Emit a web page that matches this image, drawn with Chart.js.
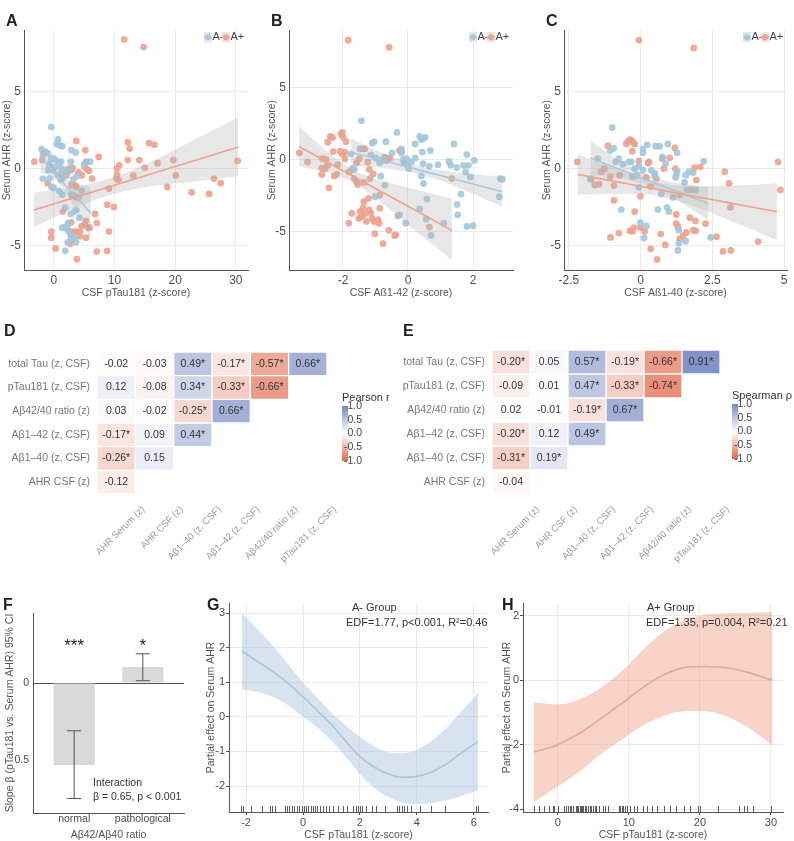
<!DOCTYPE html>
<html>
<head>
<meta charset="utf-8">
<title>Serum AHR panels</title>
<script src="https://cdn.jsdelivr.net/npm/chart.js@4.4.1/dist/chart.umd.min.js"></script>
<style>
  body { margin: 0; background: #fff; }
  #page { position: relative; width: 794px; height: 841px; overflow: hidden; font-family: "Liberation Sans", Arial, sans-serif; }
  #page canvas { position: absolute; }
  .tag { position: absolute; font-weight: bold; font-size: 16px; line-height: 16px; color: #222; }
</style>
</head>
<body>
<div id="page">
  <canvas id="cA" width="252" height="280" style="left:0;top:20px"></canvas>
  <canvas id="cB" width="252" height="280" style="left:265px;top:20px"></canvas>
  <canvas id="cC" width="254" height="280" style="left:540px;top:20px"></canvas>
  <canvas id="cD" width="400" height="245" style="left:0;top:330px"></canvas>
  <canvas id="cE" width="394" height="245" style="left:400px;top:330px"></canvas>
  <canvas id="cF" width="190" height="251" style="left:0;top:590px"></canvas>
  <canvas id="cG" width="292" height="251" style="left:200px;top:590px"></canvas>
  <canvas id="cH" width="302" height="251" style="left:492px;top:590px"></canvas>
  <div class="tag" style="left:6px;top:13px">A</div>
  <div class="tag" style="left:271px;top:13px">B</div>
  <div class="tag" style="left:546px;top:13px">C</div>
  <div class="tag" style="left:4px;top:323px">D</div>
  <div class="tag" style="left:403px;top:323px">E</div>
  <div class="tag" style="left:3px;top:597px">F</div>
  <div class="tag" style="left:207px;top:597px">G</div>
  <div class="tag" style="left:502px;top:597px">H</div>
</div>
<script>
// ---- scatter data (x, serum AHR z) ----
const groupNames = ['A-', 'A+'];

const aPos = [[11.6,8.4],[14.8,7.9],[-3.2,0.45],[-1.9,0.55],[-1.0,-0.95],[-0.4,-4.1],[-0.4,-4.5],[0.3,-5.2],[1.5,-2.8],[1.3,-0.2],
  [2.1,-0.45],[2.4,0],[2.9,-0.1],[3.1,0.05],[3.7,1.8],[3.5,-1.1],[3.7,-1.2],[2.9,-1.07],[3.3,-1.75],[3.6,-1.85],
  [2.9,-3.5],[2.7,-4.1],[3.2,-4.1],[2.7,-4.9],[2.9,-4.7],[3.7,-4.1],[4.3,-4.1],[4.3,-4.4],[4.6,-3.75],[3.8,-5.9],
  [5.1,-3.65],[5.3,-3.4],[5.3,-4.5],[5.7,-3.85],[5.9,-3.85],[5.2,1.2],[5.4,0.45],[5.1,0.1],[5.5,-0.05],[5.8,-0.15],
  [4.1,-0.25],[4.6,-0.45],[7.4,0.75],[6.3,-0.65],[6.8,-2.95],[7.1,-3.55],[7.1,-5.4],[8.8,-5.35],[9.1,-4.1],[8.8,-2.35],
  [9.1,-1.3],[9.9,-2.5],[10.3,-0.65],[10.4,-0.4],[10.4,0],[10.8,0.2],[10.7,-0.75],[12.2,1.7],[12.2,0.55],[12.5,1.3],
  [13.1,-0.45],[14.1,0.55],[15.0,0.05],[15.7,1.65],[16.6,1.55],[17.1,0.35],[18.7,-1.2],[19.7,0.55],[20.1,-0.45],[22.7,-1.55],
  [25.6,-1.65],[26.4,-0.65],[27.5,-0.95],[30.3,0.5]];
const aNeg = [[-0.4,2.7],[0.7,1.9],[0.5,1.6],[1.0,1.5],[1.4,1.45],[2.9,1.2],[3.6,1.05],[-2.0,1.25],[-1.4,1.1],[-1.0,1.0],
  [-1.8,0.9],[-0.4,0.7],[0.0,0.65],[0.3,0.55],[0.9,0.35],[1.2,0.45],[2.8,0.45],[-0.7,0.3],[-0.7,0.1],[0.3,0.1],
  [1.3,0],[1.8,-0.1],[2.3,-0.2],[2.6,-0.1],[-0.9,-0.1],[-0.1,-0.1],[-1.8,-0.65],[-0.7,-0.65],[0.7,-0.4],[1.0,-0.5],
  [1.5,-0.6],[1.2,-0.75],[-0.4,-1.2],[0.0,-1.25],[0.9,-1.45],[1.4,-1.7],[3.2,-0.7],[3.8,-0.5],[4.6,-1.45],[5.0,0.25],
  [6.0,0.45],[5.3,0.4],[4.1,-1.9],[2.9,-1.7],[1.9,-2.55],[3.7,-2.7],[3.4,-2.8],[4.2,-3.2],[2.8,-2.95],[1.8,-3.85],
  [2.4,-3.55],[2.4,-4.05],[2.8,-4.3],[2.9,-4.5],[2.3,-4.8],[3.5,-4.5],[3.7,-4.8],[1.9,-5.35],[2.3,-3.65],[1.4,-3.85]];

const bPos = [[-1.84,8.3],[-0.58,7.8],[-3.34,0.46],[-3.09,-0.18],[-2.63,0.05],[-2.52,-0.02],[-2.65,-0.6],[-2.55,-0.65],[-2.47,-0.4],[-2.65,-1.05],
  [-2.43,-1.98],[-2.47,1.2],[-2.39,1.6],[-2.32,1.52],[-2.3,0.55],[-2.27,-1.15],[-2.19,-1.05],[-2.16,-0.37],[-2.09,0.57],[-2.06,1.77],
  [-2.02,1.88],[-1.99,1.54],[-2.04,0.39],[-1.94,0.5],[-1.91,1.24],[-1.81,-0.87],[-1.94,0.05],[-1.71,-0.69],[-1.65,-1.33],[-1.58,-1.56],
  [-1.55,-1.75],[-1.4,0.74],[-1.33,0.74],[-1.36,-1.6],[-1.58,-0.23],[-1.5,0.05],[-1.19,-0.69],[-1.24,-0.18],[-1.17,-1.33],[-1.07,-1.0],
  [-0.87,-2.48],[-1.36,-2.94],[-1.22,-2.71],[-1.73,-3.75],[-1.82,-4.44],[-1.48,-3.63],[-1.38,-3.4],[-1.43,-3.98],[-1.51,-4.1],[-1.33,-3.82],
  [-1.28,-4.32],[-1.19,-3.52],[-1.14,-3.75],[-1.1,-4.1],[-1.05,-4.32],[-0.92,-4.2],[-0.89,-4.44],[-0.87,-3.4],[-1.02,-5.17],[-0.77,-5.86],
  [-0.59,-4.94],[-0.41,-5.31],[-0.38,-5.24],[-0.31,-3.93],[-0.26,0.62],[-0.2,0.55],[-0.56,0.09],[-0.66,-0.07],[-0.71,0.16],[0.66,-4.71],
  [1.35,-1.33]];
const bNeg = [[-1.43,2.69],[-1.48,0.74],[-1.76,0.39],[-1.71,-0.64],[-1.65,-0.69],[-1.1,1.13],[-1.04,1.24],[-1.14,0.32],[-0.99,0.09],[-0.87,-0.23],
  [-0.82,-0.07],[-0.74,0],[-0.84,-1.17],[-0.68,1.24],[-0.71,-1.79],[-1.02,-2.6],[-0.49,0.46],[-0.34,1.88],[-0.2,0.74],[-0.2,0.46],
  [-0.15,0],[-0.12,-0.23],[-0.05,0.05],[-0.02,-0.41],[0.03,-0.64],[0.1,-0.18],[0.22,1.08],[0.22,0.09],[0.36,1.61],[0.41,1.38],
  [0.46,1.47],[0.53,1.54],[0.44,0.51],[0.46,-0.3],[0.41,-1.15],[0.48,-1.68],[0.69,0.62],[0.66,-0.48],[0.58,-2.76],[0.92,-0.37],
  [1.26,-0.14],[1.31,-0.41],[1.41,1.08],[1.5,-0.57],[1.51,-3.13],[1.53,-3.86],[1.63,-2.41],[1.71,-0.41],[1.77,-0.87],[1.81,0.34],
  [1.86,-0.41],[1.92,-1.22],[2.04,-0.07],[1.81,-4.67],[2.0,-4.62],[2.84,-1.33],[2.91,-1.38],[2.81,-2.6],[1.1,-4.44],[-0.07,-4.44],
  [0.56,-4.14],[0.71,-5.29],[0.36,-3.45],[-0.26,-3.86]];

const cPos = [[-0.06,8.36],[1.85,7.85],[-2.21,0.43],[-1.72,-0.68],[-1.6,-1.07],[-1.45,-1.02],[-1.37,-0.21],[-1.26,0],[-1.14,1.49],[-1.06,-0.53],
  [-1.05,-4.48],[-0.93,-1.11],[-0.93,-2.07],[-0.73,-0.43],[-0.76,-4.2],[-0.5,1.6],[-0.44,1.75],[-0.38,1.88],[-0.31,1.81],[-0.27,1.71],
  [-0.21,1.6],[-0.29,1.13],[-0.38,-4.05],[-0.29,-4.09],[-0.23,-3.84],[-0.21,-2.81],[-0.06,0.49],[-0.01,-1.81],[-0.01,-3.84],[0.14,-4.09],
  [0.2,-0.58],[0.26,0.36],[0.29,0.43],[0.34,-1.17],[0.35,-5.22],[0.55,-0.64],[0.57,-5.91],[0.7,-4.26],[0.76,0.64],[0.81,0],
  [0.86,-4.97],[1.01,0.7],[1.19,1.34],[1.21,0],[1.24,-2.99],[1.24,-3.58],[1.3,-3.8],[1.36,-1.71],[1.36,-4.58],[1.48,-4.37],
  [1.59,-4.16],[1.71,-3.2],[1.77,-1.39],[1.83,-4.01],[1.88,0.06],[1.92,-4.05],[1.91,-3.41],[1.94,-0.75],[2.08,0.11],[2.26,-3.58],
  [2.64,-4.43],[2.93,-0.21],[3.08,-0.96],[3.13,-2.52],[2.87,-5.39],[3.14,-5.33],[4.09,-4.75],[4.79,0.43],[4.87,-1.39]];
const cNeg = [[-0.99,2.67],[-1.76,-0.68],[-1.49,0.64],[-1.06,1.17],[-0.94,1.32],[-0.87,0.43],[-0.76,0.64],[-0.62,0.28],[-0.41,0.43],[-0.33,0.43],
  [-0.29,-0.53],[-0.21,0],[-0.13,-0.43],[-0.06,0.15],[-0.06,-1.22],[0.08,1.28],[0.08,1.02],[0.08,-0.11],[0.23,1.54],[0.37,-0.11],
  [0.49,-0.32],[0.52,1.45],[0.66,1.45],[0.76,0.75],[0.49,-0.43],[0.72,-1.66],[0.87,0.32],[0.95,1.6],[0.6,-2.67],[0.99,-2.81],
  [0.92,-2.52],[1.22,-0.58],[1.24,-0.43],[1.27,-0.17],[1.27,1.02],[1.13,-1.88],[1.33,-4.01],[1.33,-4.86],[1.3,-5.33],[1.57,-0.43],
  [1.53,-0.9],[1.62,-1.39],[1.69,-0.21],[1.83,-0.26],[1.92,-1.39],[2.2,0.47],[2.44,-4.48],[1.57,-4.73],[0.2,-3.73],[0.12,-4.52],
  [-0.01,-3.52],[-0.67,-2.67]];

// linear fits with 95% CI (x grid, fit, upper, lower)
const aPosFitX = [-3.3, 0, 4, 8, 12, 16, 20, 25, 30.4];
const aPosFit = [-2.7, -2.3, -1.81, -1.33, -0.84, -0.35, 0.13, 0.74, 1.4];
const aPosHi = [-1.57, -1.4, -1.16, -0.78, -0.24, 0.45, 1.23, 2.24, 3.3];
const aPosLo = [-3.83, -3.2, -2.46, -1.88, -1.44, -1.15, -0.97, -0.76, -0.5];
const aNegFitX = [-2.2, -1, 0, 1, 2, 3, 4, 5, 6.1];
const aNegFit = [0.7, 0.18, -0.25, -0.69, -1.12, -1.56, -1.99, -2.42, -2.9];
const aNegHi = [1.65, 0.8, 0.17, -0.34, -0.67, -0.86, -0.99, -1.07, -1.2];
const aNegLo = [-0.25, -0.44, -0.67, -1.04, -1.57, -2.26, -2.99, -3.77, -4.6];

const bPosFitX = [-3.35, -2.5, -1.8, -1, 0, 1.35];
const bPosFit = [0.9, -0.16, -1.03, -2.02, -3.26, -4.94];
const bPosHi = [2.3, 0.59, -0.58, -1.37, -1.96, -2.74];
const bPosLo = [-0.5, -0.91, -1.48, -2.67, -4.56, -7.0];
const bNegFitX = [-1.75, -1, 0, 0.5, 1, 2, 2.9];
const bNegFit = [0.5, 0.06, -0.53, -0.83, -1.12, -1.71, -2.25];
const bNegHi = [1.45, 0.66, -0.2, -0.53, -0.77, -1.01, -1.2];
const bNegLo = [-0.45, -0.54, -0.86, -1.13, -1.47, -2.41, -3.3];

const cPosFitX = [-2.2, -1, 0, 1, 2, 3, 4, 4.75];
const cPosFit = [-0.38, -0.8, -1.15, -1.5, -1.85, -2.2, -2.55, -2.81];
const cPosHi = [0.95, 0.05, -0.65, -1.05, -1.15, -1.1, -1.05, -0.94];
const cPosLo = [-1.71, -1.65, -1.65, -1.95, -2.55, -3.3, -4.05, -4.68];
const cNegFitX = [-1.75, -1, 0, 0.5, 1, 2, 2.35];
const cNegFit = [0.68, 0.14, -0.58, -0.94, -1.3, -2.02, -2.28];
const cNegHi = [1.85, 0.84, -0.21, -0.59, -0.85, -1.12, -1.21];
const cNegLo = [-0.49, -0.56, -0.95, -1.29, -1.75, -2.92, -3.35];

const serumTicks = [-5, 0, 5];
const aXTicks = [0, 10, 20, 30];
const bXTicks = [-2, 0, 2];
const cXTicks = [-2.5, 0, 2.5, 5];

// ---- correlation matrices ----
const hmCols = ['AHR Serum (z)', 'AHR CSF (z)', 'Aβ1–40 (z, CSF)', 'Aβ1–42 (z, CSF)', 'Aβ42/40 ratio (z)', 'pTau181 (z, CSF)'];
const hmRows = ['total Tau (z, CSF)', 'pTau181 (z, CSF)', 'Aβ42/40 ratio (z)', 'Aβ1–42 (z, CSF)', 'Aβ1–40 (z, CSF)', 'AHR CSF (z)'];
const pearsonR = [[-0.02, -0.03, 0.49, -0.17, -0.57, 0.66], [0.12, -0.08, 0.34, -0.33, -0.66], [0.03, -0.02, -0.25, 0.66], [-0.17, 0.09, 0.44], [-0.26, 0.15], [-0.12]];
const pearsonSig = [[0, 0, 1, 1, 1, 1], [0, 0, 1, 1, 1], [0, 0, 1, 1], [1, 0, 1], [1, 0], [0]];
const spearmanR = [[-0.20, 0.05, 0.57, -0.19, -0.66, 0.91], [-0.09, 0.01, 0.47, -0.33, -0.74], [0.02, -0.01, -0.19, 0.67], [-0.20, 0.12, 0.49], [-0.31, 0.19], [-0.04]];
const spearmanSig = [[1, 0, 1, 1, 1, 1], [0, 0, 1, 1, 1], [0, 0, 1, 1], [1, 0, 1], [1, 1], [0]];
const legendTicks = [1, 0.5, 0, -0.5, -1];

// ---- slope by amyloid status ----
const fGroups = ['normal', 'pathological'];
const fSlope = [-0.532, 0.104];
const fLow = [-0.75, 0.015];
const fHigh = [-0.31, 0.19];
const fStars = ['***', '*'];
const fTicks = [-0.5, 0];
const fTickLabels = ['0.5', '0'];

// ---- GAM smooths ----
const gX = [-2.15, -1.5, -1, -0.5, 0, 0.5, 1, 1.5, 2, 2.5, 3, 3.5, 4, 4.5, 5, 5.5, 6.15];
const gFit = [1.9, 1.55, 1.28, 0.95, 0.58, 0.18, -0.22, -0.7, -1.15, -1.45, -1.65, -1.75, -1.72, -1.6, -1.38, -1.08, -0.72];
const gHi = [3.0, 2.45, 2.0, 1.5, 1.0, 0.55, 0.12, -0.25, -0.58, -0.85, -1.02, -1.05, -0.95, -0.7, -0.35, 0.1, 0.68];
const gLo = [0.78, 0.7, 0.55, 0.32, 0.0, -0.3, -0.7, -1.15, -1.65, -2.05, -2.32, -2.48, -2.52, -2.5, -2.42, -2.3, -2.13];
const gRug = [-2.19, -2.12, -1.84, -1.45, -1.16, -1.10, -0.98, -0.65, -0.57, -0.49, -0.40, -0.30, -0.22, -0.14, -0.05, 0.04, 0.11, 0.19, 0.27, 0.34,
  0.42, 0.50, 0.60, 0.69, 0.80, 0.92, 1.06, 1.24, 1.42, 1.56, 1.77, 1.85, 1.92, 2.00, 2.08, 2.23, 2.41, 2.58, 2.88, 3.29,
  3.38, 3.47, 3.56, 3.66, 3.78, 4.11, 4.51, 4.98, 6.09, 6.15];
const gXTicks = [-2, 0, 2, 4, 6];
const gYTicks = [-2, -1, 0, 1, 2, 3];
const gNote = ['A- Group', 'EDF=1.77, p<0.001, R²=0.46'];

const hX = [-3.4, 0, 3, 6, 9, 12, 15, 18, 21, 24, 27, 30.2];
const hFit = [-2.23, -2.0, -1.65, -1.2, -0.72, -0.22, 0.18, 0.4, 0.43, 0.38, 0.23, 0.0];
const hHi = [-0.68, -0.75, -0.6, -0.24, 0.28, 0.95, 1.52, 1.88, 2.04, 2.09, 2.1, 2.11];
const hLo = [-3.78, -3.3, -2.85, -2.3, -1.85, -1.4, -1.1, -0.95, -0.96, -1.15, -1.5, -2.03];
const hRug = [-3.4, -2.7, -2.0, -1.3, -0.7, -0.5, 0.0, 0.9, 1.2, 1.4, 1.7, 1.9, 2.1, 2.5, 2.7, 2.9, 3.1, 3.3, 3.4, 3.6,
  3.8, 4.0, 4.2, 4.5, 4.7, 4.95, 5.2, 5.4, 5.8, 6.3, 6.6, 7.1, 8.6, 8.8, 9.0, 9.2, 9.4, 9.7, 10.1, 10.7,
  11.1, 12.0, 12.5, 13.2, 13.9, 14.9, 15.8, 16.7, 17.7, 18.6, 19.8, 20.0, 22.6, 25.5, 26.2, 26.7, 27.5, 30.0];
const hXTicks = [0, 10, 20, 30];
const hYTicks = [-4, -2, 0, 2];
const hNote = ['A+ Group', 'EDF=1.35, p=0.004, R²=0.21'];

// ---- styling ----
const FONT = '"Liberation Sans", Arial, sans-serif';
const BLUE_PT = 'rgba(163,198,220,0.9)';
const SALMON_PT = 'rgba(236,162,142,0.9)';
const BLUE_LINE = '#a6c9de';
const SALMON_LINE = '#eea38d';
const SE_BAND = 'rgba(175,175,175,0.3)';

Chart.defaults.font.family = FONT;
Chart.defaults.color = '#4d4d4d';
Chart.defaults.animation = false;
Chart.defaults.plugins.legend.display = false;
Chart.defaults.plugins.tooltip.enabled = false;

function corrColor(v) {
  const t = Math.min(1, Math.abs(v));
  const end = v >= 0 ? [118, 136, 196] : [226, 104, 74];
  const c = end.map(e => Math.round(255 + (e - 255) * t));
  return `rgb(${c.join(',')})`;
}

function linAxis(o) {
  return {
    type: 'linear', min: o.min, max: o.max, offset: false,
    afterBuildTicks: s => { s.ticks = o.ticks.map(v => ({ value: v })); },
    afterFit: s => { if (o.w !== undefined) s.width = o.w; if (o.h !== undefined) s.height = o.h; },
    grid: { display: o.grid !== false, color: o.gridColor || '#ebebeb', drawTicks: !!o.tickLen, tickLength: o.tickLen || 0, tickColor: '#555' },
    border: { display: true, color: '#555', width: 1 },
    ticks: { padding: o.pad, color: '#4d4d4d', font: { size: o.fs || 12 }, callback: o.cb || (v => String(v)) },
    title: { display: true, text: o.title, color: '#555', font: { size: 10.5 }, padding: o.tpad }
  };
}

const groupLegend = {
  id: 'groupLegend',
  afterDraw(chart) {
    const { ctx, chartArea: a } = chart;
    const y = a.top + 7;
    const cols = [BLUE_LINE, SALMON_LINE];
    ctx.save();
    ctx.font = '11px ' + FONT;
    ctx.textBaseline = 'middle';
    groupNames.forEach((name, i) => {
      const x = a.right - 44 + i * 18;
      ctx.fillStyle = '#e4e4e4';
      ctx.fillRect(x, y - 5, 8, 10);
      ctx.strokeStyle = cols[i];
      ctx.lineWidth = 1.2;
      ctx.beginPath(); ctx.moveTo(x, y); ctx.lineTo(x + 8, y); ctx.stroke();
      ctx.fillStyle = cols[i];
      ctx.beginPath(); ctx.arc(x + 4, y, 3, 0, Math.PI * 2); ctx.fill();
      ctx.fillStyle = '#444';
      ctx.fillText(name, x + 8.5, y);
    });
    ctx.restore();
  }
};

function fitSets(xs, fit, hi, lo, lineColor) {
  return [
    { type: 'line', data: xs.map((x, i) => ({ x, y: fit[i] })), borderColor: lineColor, borderWidth: 1.6, pointRadius: 0, fill: false, order: 0 },
    { type: 'line', data: xs.map((x, i) => ({ x, y: hi[i] })), borderWidth: 0, borderColor: 'rgba(0,0,0,0)', backgroundColor: SE_BAND, pointRadius: 0, fill: '+1', cubicInterpolationMode: 'monotone', order: 1 },
    { type: 'line', data: xs.map((x, i) => ({ x, y: lo[i] })), borderWidth: 0, borderColor: 'rgba(0,0,0,0)', pointRadius: 0, fill: false, cubicInterpolationMode: 'monotone', order: 1 }
  ];
}

function scatterPanel(id, p) {
  new Chart(document.getElementById(id), {
    type: 'scatter',
    data: {
      datasets: [
        ...fitSets(p.posX, p.posFit, p.posHi, p.posLo, SALMON_LINE),
        ...fitSets(p.negX, p.negFit, p.negHi, p.negLo, BLUE_LINE),
        { type: 'scatter', data: p.neg.map(([x, y]) => ({ x, y })), backgroundColor: BLUE_PT, pointRadius: 3.4, borderWidth: 0, order: 2 },
        { type: 'scatter', data: p.pos.map(([x, y]) => ({ x, y })), backgroundColor: SALMON_PT, pointRadius: 3.4, borderWidth: 0, order: 2 }
      ]
    },
    options: {
      responsive: false,
      devicePixelRatio: 1,
      layout: { padding: { top: 7, right: p.right, left: 0, bottom: 0 } },
      scales: {
        x: linAxis({ min: p.xMin, max: p.xMax, ticks: p.xTicks, h: 30, pad: 3, title: p.xTitle, tpad: { top: 0, bottom: 1 } }),
        y: linAxis({ min: p.yMin, max: p.yMax, ticks: serumTicks, w: 24, pad: 3, title: 'Serum AHR (z-score)', tpad: { top: 1, bottom: 0 } })
      }
    },
    plugins: [groupLegend]
  });
}

scatterPanel('cA', { pos: aPos, neg: aNeg, posX: aPosFitX, posFit: aPosFit, posHi: aPosHi, posLo: aPosLo,
  negX: aNegFitX, negFit: aNegFit, negHi: aNegHi, negLo: aNegLo,
  xMin: -4.9, xMax: 32, yMin: -6.6, yMax: 9.0, xTicks: aXTicks, xTitle: 'CSF pTau181 (z-score)', right: 4 });
scatterPanel('cB', { pos: bPos, neg: bNeg, posX: bPosFitX, posFit: bPosFit, posHi: bPosHi, posLo: bPosLo,
  negX: bNegFitX, negFit: bNegFit, negHi: bNegHi, negLo: bNegLo,
  xMin: -3.66, xMax: 3.23, yMin: -7.7, yMax: 9.0, xTicks: bXTicks, xTitle: 'CSF Aß1-42 (z-score)', right: 4 });
scatterPanel('cC', { pos: cPos, neg: cNeg, posX: cPosFitX, posFit: cPosFit, posHi: cPosHi, posLo: cPosLo,
  negX: cNegFitX, negFit: cNegFit, negHi: cNegHi, negLo: cNegLo,
  xMin: -2.67, xMax: 5.1, yMin: -6.6, yMax: 9.0, xTicks: cXTicks, xTitle: 'CSF Aß1-40 (z-score)', right: 7 });

// ---- heatmaps ----
function heatPlugin(vals, sig, title, legendDx) {
  return {
    id: 'heatText',
    afterDatasetsDraw(chart) {
      const { ctx, chartArea: a } = chart;
      ctx.save();
      ctx.font = '10.5px ' + FONT;
      ctx.fillStyle = '#333';
      ctx.textAlign = 'center';
      ctx.textBaseline = 'middle';
      vals.forEach((row, r) => {
        const meta = chart.getDatasetMeta(r);
        row.forEach((v, j) => {
          const el = meta.data[j];
          ctx.fillText(v.toFixed(2) + (sig[r][j] ? '*' : ''), el.x, (el.y + el.base) / 2);
        });
      });
      // colour bar legend
      const bx = a.right + legendDx, by = a.top + 54, bw = 6, bh = 55;
      const grad = ctx.createLinearGradient(0, by, 0, by + bh);
      legendTicks.forEach(v => grad.addColorStop((1 - v) / 2, corrColor(v)));
      ctx.fillStyle = grad;
      ctx.fillRect(bx, by, bw, bh);
      ctx.fillStyle = '#333';
      ctx.textAlign = 'left';
      ctx.font = '11px ' + FONT;
      ctx.fillText(title, bx, by - 8);
      ctx.textAlign = 'right';
      ctx.font = '10.5px ' + FONT;
      ctx.fillStyle = '#444';
      legendTicks.forEach(v => ctx.fillText(v.toFixed(1), bx + 20, by + (1 - v) / 2 * bh));
      ctx.restore();
    }
  };
}

function heatPanel(id, vals, sig, title, yw, top, right, legendDx) {
  new Chart(document.getElementById(id), {
    type: 'bar',
    data: {
      labels: hmCols,
      datasets: vals.map((row, r) => ({
        data: hmCols.map((_, j) => j < row.length ? [r - 0.5, r + 0.5] : null),
        backgroundColor: hmCols.map((_, j) => j < row.length ? corrColor(row[j]) : 'rgba(0,0,0,0)'),
        borderColor: '#ffffff', borderWidth: 1, borderSkipped: false,
        grouped: false, barPercentage: 1, categoryPercentage: 1
      }))
    },
    options: {
      responsive: false,
      devicePixelRatio: 1,
      layout: { padding: { top, right, left: 0, bottom: 0 } },
      scales: {
        x: {
          grid: { display: false }, border: { display: false },
          afterFit: s => { s.height = 81; },
          ticks: { autoSkip: false, minRotation: 45, maxRotation: 45, labelOffset: 27, padding: 2, color: '#9a9a9a', font: { size: 9.5 } }
        },
        y: {
          type: 'linear', min: -0.5, max: 5.5, reverse: true,
          grid: { display: false, drawTicks: false }, border: { display: false },
          afterFit: s => { s.width = yw; },
          afterBuildTicks: s => { s.ticks = hmRows.map((_, i) => ({ value: i })); },
          ticks: { padding: 7, color: '#777', font: { size: 10.5 }, callback: v => hmRows[Math.round(v)] }
        }
      }
    },
    plugins: [heatPlugin(vals, sig, title, legendDx)]
  });
}

heatPanel('cD', pearsonR, pearsonSig, 'Pearson r', 97, 22, 73, 15);
heatPanel('cE', spearmanR, spearmanSig, 'Spearman ρ', 92, 20, 74, 12);

// ---- F: slopes ----
const slopeExtras = {
  id: 'slopeExtras',
  afterDatasetsDraw(chart) {
    const { ctx, chartArea: a, scales: { x, y } } = chart;
    ctx.save();
    ctx.strokeStyle = '#555';
    ctx.lineWidth = 1;
    fGroups.forEach((g, i) => {
      const px = x.getPixelForValue(i + 1);
      const y0 = y.getPixelForValue(fLow[i]), y1 = y.getPixelForValue(fHigh[i]);
      ctx.beginPath();
      ctx.moveTo(px, y0); ctx.lineTo(px, y1);
      ctx.moveTo(px - 7, y0); ctx.lineTo(px + 7, y0);
      ctx.moveTo(px - 7, y1); ctx.lineTo(px + 7, y1);
      ctx.stroke();
      ctx.fillStyle = '#222';
      ctx.font = '17px ' + FONT;
      ctx.textAlign = 'center';
      ctx.textBaseline = 'alphabetic';
      ctx.fillText(fStars[i], px, a.top + 38);
    });
    ctx.fillStyle = '#333';
    ctx.font = '10.5px ' + FONT;
    ctx.textAlign = 'left';
    ctx.textBaseline = 'middle';
    ctx.fillText('Interaction', a.left + 60, a.bottom - 30);
    ctx.fillText('β = 0.65, p < 0.001', a.left + 60, a.bottom - 16);
    ctx.restore();
  }
};

const fY = linAxis({ min: -0.844, max: 0.455, ticks: fTicks, w: 33, pad: 4, fs: 10.5,
  title: 'Slope β (pTau181 vs. Serum AHR) 95% CI', tpad: { top: 4, bottom: 0 }, cb: (v, i) => fTickLabels[i] });
fY.grid.color = c => (c.tick && c.tick.value === 0 ? '#555' : 'rgba(0,0,0,0)');

new Chart(document.getElementById('cF'), {
  type: 'bar',
  data: { datasets: [{ data: fGroups.map((g, i) => ({ x: i + 1, y: fSlope[i] })), backgroundColor: '#d9d9d9', barPercentage: 0.6, categoryPercentage: 1 }] },
  options: {
    responsive: false,
    devicePixelRatio: 1,
    layout: { padding: { top: 23, right: 6, left: 0, bottom: 0 } },
    scales: {
      x: linAxis({ min: 0.4, max: 2.6, ticks: [1, 2], h: 28, pad: 0, fs: 10.5, grid: false, title: 'Aβ42/Aβ40 ratio',
        tpad: { top: 0, bottom: 0 }, cb: v => fGroups[Math.round(v) - 1] }),
      y: fY
    }
  },
  plugins: [slopeExtras]
});

// ---- G / H: GAM partial effects ----
function gamPanel(id, g) {
  const rug = {
    id: 'rug',
    afterDatasetsDraw(chart) {
      const { ctx, chartArea: a, scales: { x } } = chart;
      ctx.save();
      ctx.strokeStyle = '#333';
      ctx.lineWidth = 0.8;
      ctx.beginPath();
      g.rug.forEach(v => {
        const px = Math.round(x.getPixelForValue(v)) + 0.5;
        ctx.moveTo(px, a.bottom); ctx.lineTo(px, a.bottom - 6);
      });
      ctx.stroke();
      ctx.fillStyle = '#333';
      ctx.font = '11px ' + FONT;
      ctx.textBaseline = 'middle';
      g.note.forEach((t, i) => ctx.fillText(t, a.left + g.noteDx[i], a.top + 5 + i * 15));
      ctx.restore();
    }
  };
  new Chart(document.getElementById(id), {
    type: 'line',
    data: {
      datasets: [
        { data: g.xs.map((x, i) => ({ x, y: g.fit[i] })), borderColor: g.line, borderWidth: 1.6, pointRadius: 0, fill: false, cubicInterpolationMode: 'monotone', order: 0 },
        { data: g.xs.map((x, i) => ({ x, y: g.hi[i] })), borderWidth: 0, borderColor: 'rgba(0,0,0,0)', backgroundColor: g.band, pointRadius: 0, fill: '+1', cubicInterpolationMode: 'monotone', order: 1 },
        { data: g.xs.map((x, i) => ({ x, y: g.lo[i] })), borderWidth: 0, borderColor: 'rgba(0,0,0,0)', pointRadius: 0, fill: false, cubicInterpolationMode: 'monotone', order: 1 }
      ]
    },
    options: {
      responsive: false,
      devicePixelRatio: 1,
      layout: { padding: { top: 13, right: g.right, left: 0, bottom: 0 } },
      scales: {
        x: linAxis({ min: g.xMin, max: g.xMax, ticks: g.xTicks, h: 29, pad: 1, fs: 11, tickLen: 3, title: 'CSF pTau181 (z-score)', tpad: { top: 0, bottom: 0 } }),
        y: linAxis({ min: g.yMin, max: g.yMax, ticks: g.yTicks, w: g.yw, pad: 1, fs: 11, tickLen: 3, title: 'Partial effect on Serum AHR', tpad: { top: g.tpad, bottom: 0 } })
      }
    },
    plugins: [rug]
  });
}

gamPanel('cG', { xs: gX, fit: gFit, hi: gHi, lo: gLo, rug: gRug, note: gNote, noteDx: [123, 117],
  band: 'rgba(166,196,222,0.45)', line: '#a9c5d8', xMin: -2.6, xMax: 6.5, yMin: -2.75, yMax: 3.29,
  xTicks: gXTicks, yTicks: gYTicks, yw: 29, tpad: 5, right: 4 });
gamPanel('cH', { xs: hX, fit: hFit, hi: hHi, lo: hLo, rug: hRug, note: hNote, noteDx: [124, 123],
  band: 'rgba(235,150,125,0.42)', line: '#e8a595', xMin: -4.9, xMax: 31.7, yMin: -4.09, yMax: 2.4,
  xTicks: hXTicks, yTicks: hYTicks, yw: 31, tpad: 8.5, right: 11 });
</script>
</body>
</html>
